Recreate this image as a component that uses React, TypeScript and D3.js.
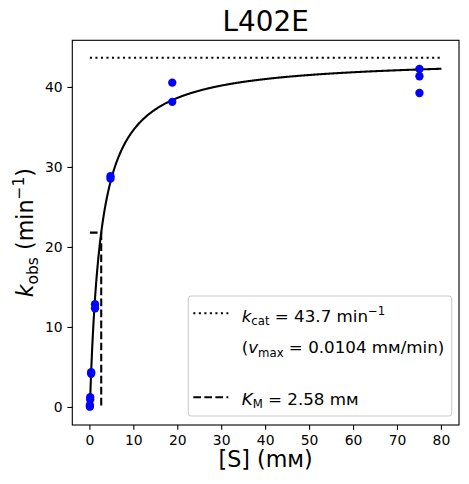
import * as d3 from "d3"

// measured substrate concentrations (mM) and observed rates (min^-1)
const substrate = [0, 0, 0.073, 0.073, 0.293, 0.293, 1.17, 1.17, 4.69, 4.69, 18.75, 18.75, 75, 75, 75]
const kobs = [0.1, 0.3, 1.0, 1.3, 4.2, 4.4, 12.4, 12.9, 28.6, 28.9, 38.2, 40.6, 39.3, 41.4, 42.3]

// fit parameters
const kcat = 43.7
const km = 2.58

const xTicks = [0, 10, 20, 30, 40, 50, 60, 70, 80]
const yTicks = [0, 10, 20, 30, 40]

const W = 469
const H = 484
const left = 72.3
const right = 459
const top = 40.3
const bottom = 425
const font = "DejaVu Sans, sans-serif"

export default function App() {
  const x = d3.scaleLinear().domain([-4, 84]).range([left, right])
  const y = d3.scaleLinear().domain([-2.19, 45.89]).range([bottom, top])

  // fitted Michaelis-Menten curve
  const fitS = d3.range(0, 80.01, 0.1)
  const fitLine = d3
    .line<number>()
    .x((s) => x(s))
    .y((s) => y((kcat * s) / (km + s)))

  const kmPath = d3.line<[number, number]>()
    .x((d) => x(d[0]))
    .y((d) => y(d[1]))([
    [0, kcat / 2],
    [km, kcat / 2],
    [km, 0],
  ])

  const cx = (left + right) / 2
  const cy = (top + bottom) / 2
  const leg = { x0: 188.3, y0: 296, x1: 451.7, y1: 416 }
  const hx0 = 193.3
  const hx1 = 228.3
  const tx = 241.7

  return (
    <svg
      width={W}
      height={H}
      style={{ position: "absolute", left: 0, top: 0, background: "#fff" }}
      fontFamily={font}
    >
      <rect x={0} y={0} width={W} height={H} fill="#fff" />

      {/* vmax line */}
      <line
        x1={x(0)}
        x2={x(80)}
        y1={y(kcat)}
        y2={y(kcat)}
        stroke="#000"
        strokeWidth={2.08}
        strokeDasharray="2.08,3.44"
      />
      {/* Km marker */}
      <path d={kmPath ?? ""} fill="none" stroke="#000" strokeWidth={2.08} strokeDasharray="7.7,3.33" />
      {/* fit */}
      <path d={fitLine(fitS) ?? ""} fill="none" stroke="#000" strokeWidth={2.08} />

      {substrate.map((s, i) => (
        <circle key={i} cx={x(s)} cy={y(kobs[i])} r={4.17} fill="#0000ff" />
      ))}

      {/* frame */}
      <rect
        x={left}
        y={top}
        width={right - left}
        height={bottom - top}
        fill="none"
        stroke="#000"
        strokeWidth={1.1}
      />

      {xTicks.map((t) => (
        <g key={"x" + t}>
          <line x1={x(t)} x2={x(t)} y1={bottom} y2={bottom + 4.86} stroke="#000" strokeWidth={1.1} />
          <text x={x(t)} y={445.3} fontSize={13.9} textAnchor="middle" fill="#000">
            {t}
          </text>
        </g>
      ))}
      {yTicks.map((t) => (
        <g key={"y" + t}>
          <line x1={left - 4.86} x2={left} y1={y(t)} y2={y(t)} stroke="#000" strokeWidth={1.1} />
          <text x={62.6} y={y(t) + 5} fontSize={13.9} textAnchor="end" fill="#000">
            {t}
          </text>
        </g>
      ))}

      {/* title */}
      <text x={cx} y={31} fontSize={27.8} textAnchor="middle" fill="#000">
        L402E
      </text>

      {/* x label */}
      <text x={cx} y={467} fontSize={22.2} textAnchor="middle" fill="#000">
        [S] (mᴍ)
      </text>

      {/* y label */}
      <text
        transform={`translate(33,${cy}) rotate(-90)`}
        fontSize={22.2}
        textAnchor="middle"
        fill="#000"
      >
        <tspan fontStyle="italic">k</tspan>
        <tspan fontSize={15.5} dy={4.5}>obs</tspan>
        <tspan dy={-4.5}> (min</tspan>
        <tspan fontSize={15.5} dy={-9}>−1</tspan>
        <tspan dy={9}>)</tspan>
      </text>

      {/* legend */}
      <rect
        x={leg.x0}
        y={leg.y0}
        width={leg.x1 - leg.x0}
        height={leg.y1 - leg.y0}
        rx={3.3}
        fill="#fff"
        fillOpacity={0.8}
        stroke="#cccccc"
        strokeWidth={1.1}
      />
      <line
        x1={hx0}
        x2={hx1}
        y1={313.3}
        y2={313.3}
        stroke="#000"
        strokeWidth={2.08}
        strokeDasharray="2.08,3.44"
      />
      <line
        x1={hx0}
        x2={hx1}
        y1={397.3}
        y2={397.3}
        stroke="#000"
        strokeWidth={2.08}
        strokeDasharray="7.7,3.33"
      />
      <text x={tx} y={321.7} fontSize={16.7} fill="#000">
        <tspan fontStyle="italic">k</tspan>
        <tspan fontSize={11.7} dy={3.4}>cat</tspan>
        <tspan dy={-3.4}> = 43.7 min</tspan>
        <tspan fontSize={11.7} dy={-7}>−1</tspan>
      </text>
      <text x={tx} y={353.3} fontSize={16.7} fill="#000">
        <tspan>(</tspan>
        <tspan fontStyle="italic">v</tspan>
        <tspan fontSize={11.7} dy={3.4}>max</tspan>
        <tspan dy={-3.4}> = 0.0104 mᴍ/min)</tspan>
      </text>
      <text x={tx} y={405} fontSize={16.7} fill="#000">
        <tspan fontStyle="italic">K</tspan>
        <tspan fontSize={11.7} dy={3.4}>M</tspan>
        <tspan dy={-3.4}> = 2.58 mᴍ</tspan>
      </text>
    </svg>
  )
}
